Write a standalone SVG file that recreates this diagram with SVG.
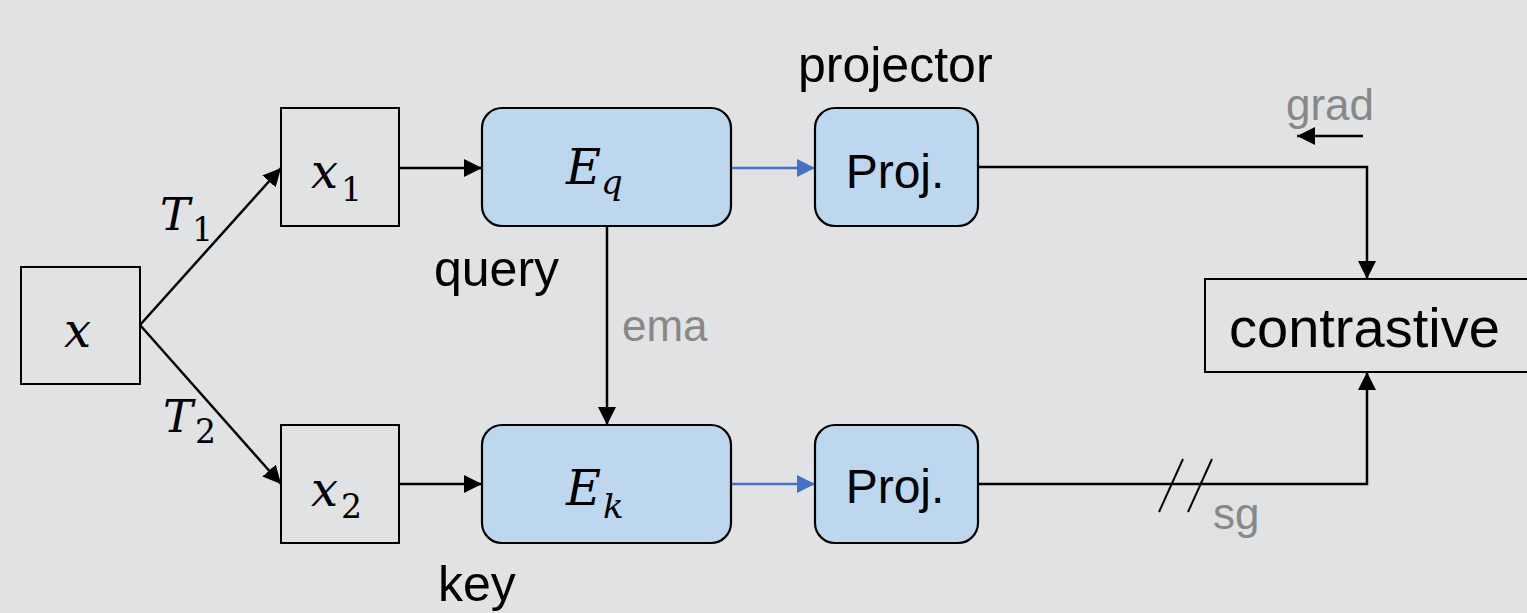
<svg xmlns="http://www.w3.org/2000/svg" width="1527" height="613" viewBox="0 0 1527 613">
<defs>
<marker id="ahb" viewBox="0 0 18 18" refX="18" refY="9" markerWidth="18" markerHeight="18" orient="auto" markerUnits="userSpaceOnUse">
<path d="M0,0 L18,9 L0,18 z" fill="#4472c4"/>
</marker>
<marker id="ahk" viewBox="0 0 18 18" refX="18" refY="9" markerWidth="18" markerHeight="18" orient="auto" markerUnits="userSpaceOnUse">
<path d="M0,0 L18,9 L0,18 z" fill="#000"/>
</marker>
<style>
.box{fill:none;stroke:#000;stroke-width:2}
.rbox{fill:#bdd7ee;stroke:#000;stroke-width:2.2}
.ln{fill:none;stroke:#000;stroke-width:2.5}
.bl{fill:none;stroke:#4472c4;stroke-width:2.5}
.lbl{font-family:"Liberation Sans",Arial,sans-serif;font-size:50px;fill:#000}
.proj{font-family:"Liberation Sans",Arial,sans-serif;font-size:48px;fill:#000}
.big{font-family:"Liberation Sans",Arial,sans-serif;font-size:56px;fill:#000}
.gray{font-family:"Liberation Sans",Arial,sans-serif;font-size:44px;fill:#888}
.math{font-family:"DejaVu Serif","Liberation Serif",serif;font-style:italic;font-size:48px;fill:#000}
.mathT{font-family:"DejaVu Serif","Liberation Serif",serif;font-style:italic;font-size:45px;fill:#000}
.sub{font-family:"DejaVu Serif","Liberation Serif",serif;font-style:normal;font-size:33px;fill:#000}
.subi{font-family:"DejaVu Serif","Liberation Serif",serif;font-style:italic;font-size:34px;fill:#000}
</style>
</defs>
<rect x="0" y="0" width="1527" height="613" fill="#e1e2e4"/>

<g id="connectors">
<line class="ln" x1="140" y1="325" x2="281" y2="168" marker-end="url(#ahk)"/>
<line class="ln" x1="140" y1="325" x2="281" y2="484" marker-end="url(#ahk)"/>
<line class="ln" x1="399" y1="168" x2="482" y2="168" marker-end="url(#ahk)"/>
<line class="ln" x1="399" y1="484" x2="482" y2="484" marker-end="url(#ahk)"/>
<line class="bl" x1="731" y1="168" x2="815" y2="168" marker-end="url(#ahb)"/>
<line class="bl" x1="731" y1="484" x2="815" y2="484" marker-end="url(#ahb)"/>
<line class="ln" x1="607" y1="226" x2="607" y2="425" marker-end="url(#ahk)"/>
<polyline class="ln" points="978,167 1367,167 1367,279" marker-end="url(#ahk)"/>
<polyline class="ln" points="978,484 1367,484 1367,372" marker-end="url(#ahk)"/>
<line class="ln" x1="1363" y1="136" x2="1297" y2="136" marker-end="url(#ahk)"/>
<line x1="1159" y1="512" x2="1183" y2="459" stroke="#000" stroke-width="2"/>
<line x1="1188" y1="512" x2="1212" y2="459" stroke="#000" stroke-width="2"/>
<text class="mathT" x="160" y="230">T<tspan class="sub" dx="2" dy="11">1</tspan></text>
<text class="mathT" x="163" y="432">T<tspan class="sub" dx="2" dy="11">2</tspan></text>
<text class="gray" x="622" y="341">ema</text>
<text class="gray" x="1286" y="120">grad</text>
<text class="gray" x="1213" y="529">sg</text>
</g>

<g id="node-x">
<rect class="box" x="21" y="267" width="119" height="117"/>
<text class="math" x="64" y="347">x</text>
</g>
<g id="node-x1">
<rect class="box" x="281" y="108" width="118" height="118"/>
<text class="math" x="311" y="188">x<tspan class="sub" dx="3" dy="13">1</tspan></text>
</g>
<g id="node-x2">
<rect class="box" x="281" y="425" width="118" height="118"/>
<text class="math" x="311" y="506">x<tspan class="sub" dx="3" dy="12">2</tspan></text>
</g>
<g id="node-Eq">
<rect class="rbox" x="482" y="108" width="249" height="118" rx="20"/>
<text class="math" x="566" y="184">E<tspan class="subi" dy="10">q</tspan></text>
<text class="lbl" x="434" y="286">query</text>
</g>
<g id="node-Ek">
<rect class="rbox" x="482" y="425" width="249" height="118" rx="20"/>
<text class="math" x="566" y="505">E<tspan class="subi" dx="2" dy="13">k</tspan></text>
<text class="lbl" x="438" y="601">key</text>
</g>
<g id="node-proj1">
<rect class="rbox" x="815" y="108" width="163" height="118" rx="20"/>
<text class="proj" x="895" y="188" text-anchor="middle">Proj.</text>
<text class="lbl" x="798" y="82">projector</text>
</g>
<g id="node-proj2">
<rect class="rbox" x="815" y="425" width="163" height="118" rx="20"/>
<text class="proj" x="895" y="503" text-anchor="middle">Proj.</text>
</g>
<g id="node-contrastive">
<rect class="box" x="1205" y="279" width="340" height="93"/>
<text class="big" x="1229" y="347">contrastive</text>
</g>
</svg>
